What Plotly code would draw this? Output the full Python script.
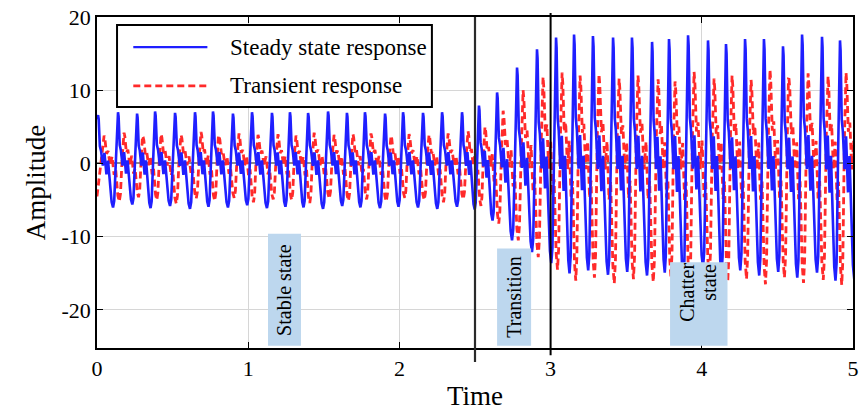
import plotly.graph_objects as go

# ---- data -------------------------------------------------------------
# times of the steady-state response peaks
peak_t = [0.007, 0.139, 0.265, 0.384, 0.516, 0.648, 0.767, 0.899, 1.025, 1.157,
          1.276, 1.396, 1.528, 1.653, 1.772, 1.905, 2.024, 2.156, 2.282, 2.414,
          2.526, 2.646, 2.778, 2.910, 3.036, 3.155, 3.280, 3.413, 3.538, 3.671,
          3.783, 3.909, 4.041, 4.160, 4.286, 4.411, 4.537, 4.663, 4.795, 4.914]

steady_peaks = [6.6, 7.0, 6.8, 7.1, 6.9, 7.0, 7.1, 6.8, 7.0, 6.9,
                7.0, 6.9, 7.1, 6.9, 7.0, 6.8, 7.0, 6.9, 7.0, 7.0,
                7.9, 9.7, 13.1, 15.6, 17.2, 17.6, 17.4, 17.2, 17.2, 16.6,
                17.0, 17.5, 16.8, 16.3, 17.0, 17.0, 16.0, 17.6, 17.3, 16.8]

steady_troughs = [-6.0, -5.6, -6.1, -5.8, -6.2, -5.9, -6.0, -5.7, -6.1, -5.9,
                  -6.0, -6.2, -5.8, -6.0, -6.1, -5.9, -6.0, -6.2, -5.9, -6.3,
                  -7.8, -10.5, -12.1, -13.6, -15.0, -14.6, -15.2, -14.8, -15.3, -14.9,
                  -15.5, -14.2, -15.0, -14.6, -15.3, -14.8, -15.6, -14.9, -16.0, -15.8]

transient_lag = 0.040
transient_peaks = [3.8, 4.2, 3.6, 4.0, 3.9, 4.3, 3.7, 4.1, 3.9, 4.0,
                   3.8, 4.2, 3.9, 4.0, 4.1, 3.8, 4.0, 3.9, 4.1, 4.4,
                   5.0, 7.2, 10.0, 11.8, 12.4, 12.0, 12.2, 11.6, 12.0, 11.5,
                   11.2, 12.5, 11.6, 12.0, 11.4, 12.8, 11.5, 12.3, 11.9, 12.4]

transient_troughs = [-5.2, -4.6, -5.0, -5.5, -4.8, -5.1, -4.7, -5.3, -4.9, -5.0,
                     -5.4, -4.8, -5.1, -4.9, -5.2, -4.7, -5.0, -5.3, -4.9, -5.8,
                     -8.2, -10.5, -12.8, -14.5, -16.0, -15.6, -16.4, -15.8, -16.2, -15.5,
                     -16.6, -15.4, -16.2, -15.8, -16.5, -15.6, -16.3, -15.9, -16.6, -16.0]

steady_start = 6.0
transient_start = -4.5

# waveform of one cycle: (phase, reference extreme, fraction of that extreme)
steady_shape = [(0.00, "P", 1.00), (0.03, "P", 0.92), (0.09, "P", 0.36),
                (0.15, "P", 0.26), (0.24, "B", 0.05), (0.32, "P", 0.22),
                (0.42, "B", 0.25), (0.50, "P", 0.06), (0.59, "B", 0.45),
                (0.68, "B", 0.88), (0.75, "B", 1.00), (0.81, "B", 0.85),
                (0.90, "P", 0.12), (0.97, "P", 0.92)]
transient_shape = [(0.00, "P", 1.00), (0.04, "P", 0.88), (0.12, "P", 0.35),
                   (0.20, "P", 0.45), (0.30, "B", 0.05), (0.40, "P", 0.25),
                   (0.50, "B", 0.30), (0.58, "B", 0.15), (0.69, "B", 0.85),
                   (0.76, "B", 1.00), (0.82, "B", 0.80), (0.91, "P", 0.30),
                   (0.97, "P", 0.90)]


def build_wave(times, peaks, troughs, shape, start):
    times = list(times)
    mean_T = (times[-1] - times[0]) / (len(times) - 1)
    xs, ys = [0.0], [start]
    for k, t0 in enumerate(times):
        t1 = times[k + 1] if k + 1 < len(times) else t0 + mean_T
        P, B = peaks[k], troughs[k]
        for ph, ref, fr in shape:
            xs.append(t0 + ph * (t1 - t0))
            ys.append(fr * (P if ref == "P" else B))
    return xs, ys


sx, sy = build_wave(peak_t, steady_peaks, steady_troughs, steady_shape, steady_start)
tx, ty = build_wave([t + transient_lag for t in peak_t], transient_peaks,
                    transient_troughs, transient_shape, transient_start)

SERIF = "Liberation Serif, Times New Roman, serif"
BLUE = "#1f1fff"
RED = "#ff2a2a"
RED_DASH = "7px,4px"

fig = go.Figure()
fig.add_trace(go.Scatter(x=tx, y=ty, mode="lines", name="Transient response",
                         line=dict(color=RED, width=2.8, dash=RED_DASH)))
fig.add_trace(go.Scatter(x=sx, y=sy, mode="lines", name="Steady state response",
                         line=dict(color=BLUE, width=2.6)))

# region boxes and labels
regions = [
    dict(x0=1.131, x1=1.349, y0=-24.9, y1=-9.6),
    dict(x0=2.646, x1=2.871, y0=-24.9, y1=-11.6),
    dict(x0=3.790, x1=4.170, y0=-24.9, y1=-13.5),
]
labels = [
    dict(x=1.240, y=-17.2, text="Stable state"),
    dict(x=2.758, y=-18.2, text="Transition"),
    dict(x=3.905, y=-17.6, text="Chatter"),
    dict(x=4.045, y=-16.2, text="state"),
]
shapes = []
annotations = []
for r in regions:
    shapes.append(dict(type="rect", xref="x", yref="y", x0=r["x0"], x1=r["x1"],
                       y0=r["y0"], y1=r["y1"], fillcolor="rgb(189,215,238)",
                       line=dict(width=0), layer="above"))
for lb in labels:
    annotations.append(dict(x=lb["x"], y=lb["y"], xref="x", yref="y",
                            text=lb["text"], textangle=-90, showarrow=False,
                            yanchor="middle",
                            font=dict(family=SERIF, size=20, color="black")))

# boundaries between regimes
shapes.append(dict(type="line", xref="x", yref="paper", x0=2.5, x1=2.5, y0=-0.042, y1=1.0,
                   line=dict(color="#2a2a2a", width=2.2)))
shapes.append(dict(type="line", xref="x", yref="paper", x0=3.0, x1=3.0, y0=-0.022, y1=1.012,
                   line=dict(color="black", width=2)))

# legend box
shapes.append(dict(type="rect", xref="paper", yref="paper", x0=0.0265, x1=0.443,
                   y0=0.728, y1=0.976, fillcolor="white", line=dict(color="black", width=2),
                   layer="above"))
shapes.append(dict(type="line", xref="paper", yref="paper", x0=0.048, x1=0.146,
                   y0=0.909, y1=0.909, line=dict(color=BLUE, width=2.4), layer="above"))
shapes.append(dict(type="line", xref="paper", yref="paper", x0=0.048, x1=0.146,
                   y0=0.792, y1=0.792, line=dict(color=RED, width=2.8, dash=RED_DASH),
                   layer="above"))
for yy, label in [(0.909, "Steady state response"), (0.792, "Transient response")]:
    annotations.append(dict(x=0.173, y=yy, xref="paper", yref="paper", text=label,
                            showarrow=False, xanchor="left", yanchor="middle",
                            font=dict(family=SERIF, size=23, color="black")))

x_ticks = [0, 1, 2, 3, 4, 5]
y_ticks = [-20, -10, 0, 10, 20]

fig.update_layout(
    width=860, height=418,
    margin=dict(l=97, r=7, t=17, b=70),
    paper_bgcolor="white", plot_bgcolor="white",
    showlegend=False,
    shapes=shapes, annotations=annotations,
    font=dict(family=SERIF, size=22, color="black"),
)
fig.update_xaxes(
    range=[0, 5], tickvals=x_ticks, ticktext=[str(v) for v in x_ticks],
    automargin=False,
    showline=True, linecolor="black", linewidth=1.5, mirror="ticks",
    ticks="inside", ticklen=6, tickcolor="black",
    showgrid=True, gridcolor="#d6d6d6", gridwidth=1, zeroline=False,
    title=dict(text="Time", font=dict(family=SERIF, size=27), standoff=6),
    tickfont=dict(family=SERIF, size=22),
)
fig.update_yaxes(
    range=[-25.2, 20], tickvals=y_ticks, ticktext=[str(v) for v in y_ticks],
    automargin=False,
    showline=True, linecolor="black", linewidth=1.5, mirror="ticks",
    ticks="inside", ticklen=6, tickcolor="black",
    showgrid=True, gridcolor="#d6d6d6", gridwidth=1,
    zeroline=True, zerolinecolor="#8a8a8a", zerolinewidth=1.5,
    title=dict(text="Amplitude", font=dict(family=SERIF, size=27), standoff=8),
    tickfont=dict(family=SERIF, size=22),
)

fig.write_html("out.html")
